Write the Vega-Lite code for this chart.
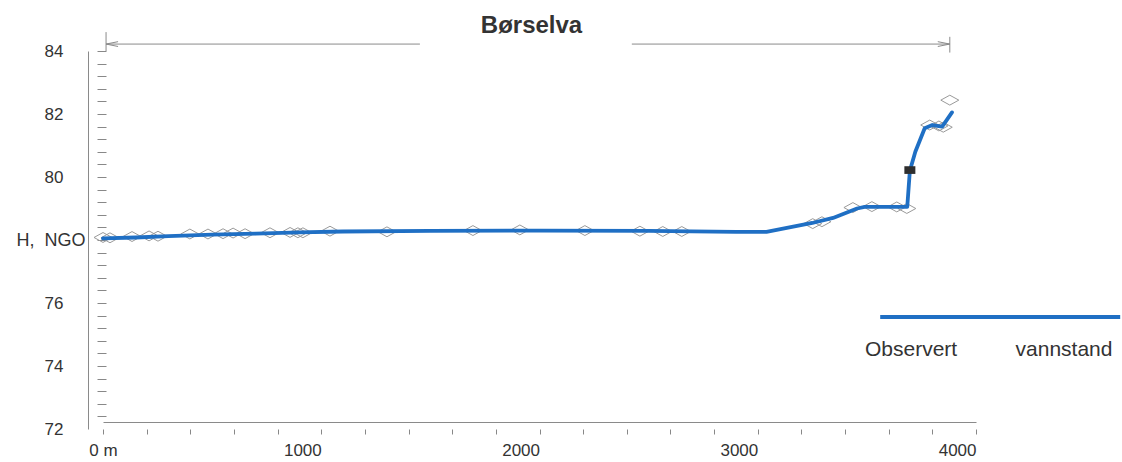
{
  "$schema": "https://vega.github.io/schema/vega-lite/v6.json",
  "width": 873,
  "height": 378,
  "autosize": {"type": "none"},
  "padding": {"left": 103, "top": 51, "right": 146, "bottom": 33},
  "background": "white",
  "config": {"view": {"stroke": null}, "font": "Liberation Sans"},
  "title": {"text": "Børselva", "fontSize": 24, "fontWeight": "bold", "color": "#333333", "font": "Liberation Sans", "offset": -6, "dx": -8, "anchor": "middle", "frame": "group"},
  "datasets": {
    "surveyed": [
      {"dist": 0, "h": 78.08}, {"dist": 32, "h": 78.07}, {"dist": 133, "h": 78.11}, {"dist": 211, "h": 78.13},
      {"dist": 252, "h": 78.12}, {"dist": 398, "h": 78.19}, {"dist": 481, "h": 78.19}, {"dist": 550, "h": 78.2},
      {"dist": 596, "h": 78.22}, {"dist": 651, "h": 78.2}, {"dist": 765, "h": 78.23}, {"dist": 857, "h": 78.24},
      {"dist": 893, "h": 78.23}, {"dist": 916, "h": 78.23}, {"dist": 1040, "h": 78.28}, {"dist": 1301, "h": 78.26},
      {"dist": 1695, "h": 78.3}, {"dist": 1910, "h": 78.32}, {"dist": 2208, "h": 78.3}, {"dist": 2460, "h": 78.28},
      {"dist": 2565, "h": 78.27}, {"dist": 2652, "h": 78.27}, {"dist": 3252, "h": 78.52}, {"dist": 3294, "h": 78.58},
      {"dist": 3436, "h": 79.03}, {"dist": 3523, "h": 79.06}, {"dist": 3637, "h": 79.05}, {"dist": 3683, "h": 79.0},
      {"dist": 3788, "h": 81.65}, {"dist": 3830, "h": 81.62}, {"dist": 3850, "h": 81.58}, {"dist": 3880, "h": 82.44}
    ],
    "profile": [
      {"dist": 0, "h": 78.05}, {"dist": 150, "h": 78.08}, {"dist": 300, "h": 78.12}, {"dist": 500, "h": 78.17},
      {"dist": 700, "h": 78.2}, {"dist": 900, "h": 78.24}, {"dist": 1100, "h": 78.27}, {"dist": 1500, "h": 78.29},
      {"dist": 2000, "h": 78.3}, {"dist": 2500, "h": 78.29}, {"dist": 2900, "h": 78.26}, {"dist": 3040, "h": 78.26},
      {"dist": 3250, "h": 78.54}, {"dist": 3345, "h": 78.7}, {"dist": 3455, "h": 79.0}, {"dist": 3490, "h": 79.05},
      {"dist": 3685, "h": 79.05}, {"dist": 3697, "h": 80.2}, {"dist": 3722, "h": 80.8}, {"dist": 3765, "h": 81.55},
      {"dist": 3800, "h": 81.65}, {"dist": 3845, "h": 81.6}, {"dist": 3890, "h": 82.05}
    ],
    "gauge": [{"dist": 3697, "h": 80.22}],
    "arrow": [{"from": 14, "to": 1452}, {"from": 2423, "to": 3880}],
    "ends": [{"at": 14, "lo": 84.0, "hi": 84.6}, {"at": 3880, "lo": 83.95, "hi": 84.45}]
  },
  "layer": [
    {
      "data": {"name": "surveyed"},
      "mark": {"type": "point", "shape": "M-1,0L0,-0.55L1,0L0,0.55Z", "size": 324, "filled": false, "stroke": "#9a9a9a", "strokeWidth": 1, "opacity": 1},
      "encoding": {
        "x": {"field": "dist", "type": "quantitative", "scale": {"domain": [0, 4000], "nice": false, "zero": false},
          "axis": {"orient": "bottom", "values": [0,200,400,600,800,1000,1200,1400,1600,1800,2000,2200,2400,2600,2800,3000,3200,3400,3600,3800,4000],
            "domain": false, "ticks": true, "tickSize": 5, "tickColor": "#888888", "tickWidth": 1, "grid": false, "format": "d",
            "labelExpr": "datum.value == 0 ? '0 m' : (datum.value % 1000 == 0 ? datum.label : '')",
            "labelAlign": {"condition": {"test": "datum.value == 0", "value": "center"}, "value": "right"},
            "labelPadding": 8, "labelFontSize": 17, "labelColor": "#333333", "labelFont": "Liberation Sans",
            "labelOverlap": false, "labelFlush": false, "labelBound": false, "title": null}},
        "y": {"field": "h", "type": "quantitative", "scale": {"domain": [72, 84], "nice": false, "zero": false},
          "axis": {"orient": "left", "offset": -3, "values": [72.4,72.8,73.2,73.6,74,74.4,74.8,75.2,75.6,76,76.4,76.8,77.2,77.6,78,78.4,78.8,79.2,79.6,80,80.4,80.8,81.2,81.6,82,82.4,82.8,83.2,83.6,84],
            "domain": false, "ticks": true, "tickSize": 9, "tickColor": "#888888", "tickWidth": 1, "labels": false, "grid": false, "title": null}}
      }
    },
    {
      "data": {"name": "profile"},
      "mark": {"type": "line", "strokeWidth": 3.8, "strokeJoin": "round", "strokeCap": "round"},
      "encoding": {
        "x": {"field": "dist", "type": "quantitative", "scale": {"domain": [0, 4000], "nice": false, "zero": false},
          "axis": {"orient": "bottom", "offset": -7, "domain": true, "domainColor": "#8a8a8a", "domainWidth": 1, "ticks": false, "labels": false, "grid": false, "title": null}},
        "y": {"field": "h", "type": "quantitative", "scale": {"domain": [72, 84], "nice": false, "zero": false},
          "axis": {"orient": "left", "offset": 15, "domain": true, "domainColor": "#8a8a8a", "domainWidth": 1, "ticks": false, "tickSize": 0, "grid": false,
            "values": [72, 74, 76, 78, 80, 82, 84],
            "labelExpr": "datum.value == 78 ? 'H,\u00a0\u00a0NGO' : datum.label",
            "labelAlign": "right",
            "labelPadding": {"condition": {"test": "datum.value == 78", "value": 3}, "value": 25},
            "labelFontSize": {"condition": {"test": "datum.value == 78", "value": 18}, "value": 17},
            "labelColor": "#333333", "labelFont": "Liberation Sans", "labelOverlap": false, "labelBound": false, "title": null}},
        "color": {"datum": "Observert vannstand", "type": "nominal", "scale": {"range": ["#1f6fc4"]},
          "legend": {"orient": "none", "legendX": 762, "legendY": 252, "padding": 0,
            "title": "Observert\u00a0\u00a0\u00a0\u00a0\u00a0\u00a0\u00a0\u00a0\u00a0\u00a0vannstand",
            "titleOrient": "bottom", "titleAnchor": "start", "titleFontSize": 21, "titleFontWeight": "normal", "titleColor": "#333333", "titleFont": "Liberation Sans",
            "titlePadding": 14, "titleLimit": 500,
            "symbolType": "M0.1,0L20.1,0", "symbolSize": 576, "symbolStrokeWidth": 3.8, "symbolStrokeColor": "#1f6fc4", "symbolFillColor": "transparent",
            "labelExpr": "''", "labelOffset": 0}}
      }
    },
    {
      "data": {"name": "gauge"},
      "mark": {"type": "point", "shape": "M-1,-0.7L1,-0.7L1,0.7L-1,0.7Z", "size": 121, "filled": true, "fill": "#2e2e2e", "opacity": 1},
      "encoding": {
        "x": {"field": "dist", "type": "quantitative", "scale": {"domain": [0, 4000], "nice": false, "zero": false}, "axis": null},
        "y": {"field": "h", "type": "quantitative", "scale": {"domain": [72, 84], "nice": false, "zero": false}, "axis": null}
      }
    },
    {
      "data": {"name": "arrow"},
      "mark": {"type": "rule", "stroke": "#8a8a8a", "strokeWidth": 1, "clip": false},
      "encoding": {
        "x": {"field": "from", "type": "quantitative", "scale": {"domain": [0, 4000], "nice": false, "zero": false}, "axis": null},
        "x2": {"field": "to"},
        "y": {"datum": 84.22, "type": "quantitative", "scale": {"domain": [72, 84], "nice": false, "zero": false}, "axis": null}
      }
    },
    {
      "data": {"name": "ends"},
      "mark": {"type": "rule", "stroke": "#8a8a8a", "strokeWidth": 1, "clip": false},
      "encoding": {
        "x": {"field": "at", "type": "quantitative", "scale": {"domain": [0, 4000], "nice": false, "zero": false}, "axis": null},
        "y": {"field": "lo", "type": "quantitative", "scale": {"domain": [72, 84], "nice": false, "zero": false}, "axis": null},
        "y2": {"field": "hi"}
      }
    },
    {
      "data": {"values": [{}]},
      "mark": {"type": "point", "shape": "M2,-0.4L0,0L2,0.4", "size": 144, "filled": false, "stroke": "#8a8a8a", "strokeWidth": 1, "opacity": 1, "clip": false},
      "encoding": {
        "x": {"datum": 14, "type": "quantitative", "scale": {"domain": [0, 4000], "nice": false, "zero": false}, "axis": null},
        "y": {"datum": 84.22, "type": "quantitative", "scale": {"domain": [72, 84], "nice": false, "zero": false}, "axis": null}
      }
    },
    {
      "data": {"values": [{}]},
      "mark": {"type": "point", "shape": "M-2,-0.4L0,0L-2,0.4", "size": 144, "filled": false, "stroke": "#8a8a8a", "strokeWidth": 1, "opacity": 1, "clip": false},
      "encoding": {
        "x": {"datum": 3880, "type": "quantitative", "scale": {"domain": [0, 4000], "nice": false, "zero": false}, "axis": null},
        "y": {"datum": 84.22, "type": "quantitative", "scale": {"domain": [72, 84], "nice": false, "zero": false}, "axis": null}
      }
    }
  ],
  "resolve": {"axis": {"x": "independent", "y": "independent"}}
}
